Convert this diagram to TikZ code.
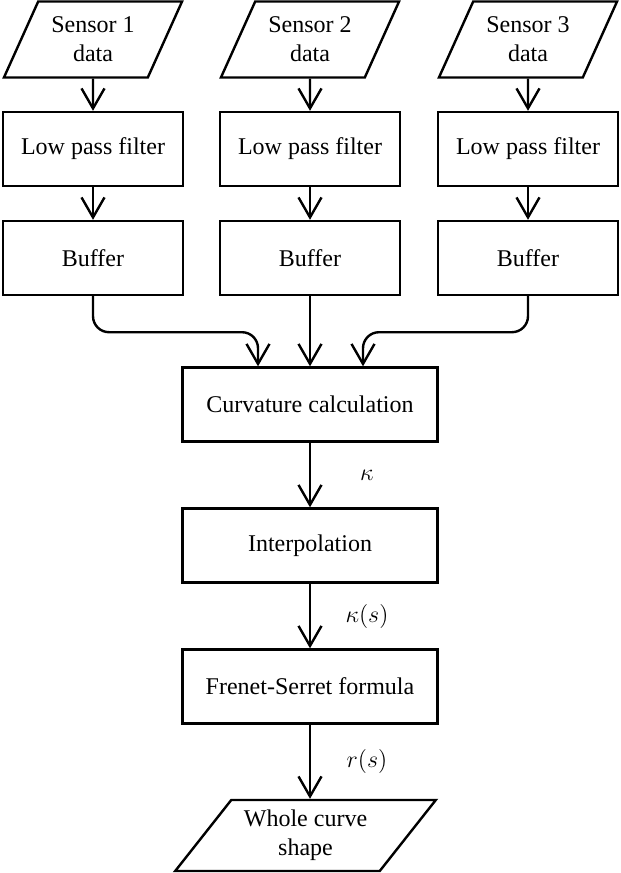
\documentclass[tikz,border=0pt]{standalone}
\usepackage{fontspec}
\setmainfont{Liberation Serif}
\usetikzlibrary{arrows.meta,shapes.geometric}

\tikzset{
	txt/.style={font=\fontsize{12}{14.5}\selectfont, align=center},
	box/.style={txt, draw, line width=1.2pt, minimum width=90pt, minimum height=37pt, inner sep=0pt},
	iobox/.style={txt, draw, line width=1.2pt, trapezium, trapezium left angle=60, trapezium right angle=120,
		trapezium stretches=true, minimum width=89.5pt, minimum height=38pt, inner sep=0pt},
	flow/.style={line width=1.2pt, -{Straight Barb[length=10pt,width=11.5pt]}},
	lbl/.style={font=\fontsize{13}{15}\selectfont, midway, xshift=28.5pt}
}

\begin{document}
\begin{tikzpicture}[x=0.5pt,y=-0.5pt]
	\useasboundingbox (0,0) rectangle (621,873);

	\node[iobox] (sen1) at (93,39.5) {Sensor 1\\data};%Sensor links
	\node[iobox] (sen2) at (310,39.5) {Sensor 2\\data};
	\node[iobox] (sen3) at (528,39.5) {Sensor 3\\data};%Sensor rechts

	\node[box] (lpf1) at (93,149) {Low pass filter};
	\node[box] (lpf2) at (310,149) {Low pass filter};
	\node[box] (lpf3) at (528,149) {Low pass filter};

	\node[box] (buf1) at (93,258) {Buffer};
	\node[box] (buf2) at (310,258) {Buffer};
	\node[box] (buf3) at (528,258) {Buffer};

	\node[box, minimum width=127.5pt] (curv) at (310,404.5) {Curvature calculation};
	\node[box, minimum width=127.5pt] (interp) at (310,545.5) {Interpolation};
	\node[box, minimum width=127.5pt] (frenet) at (310,686.5) {Frenet-Serret formula};
	\node[iobox, trapezium left angle=47.5, trapezium right angle=132.5,
		minimum width=130.5pt, minimum height=35.5pt] (shape) at (305.5,835.5) {Whole curve\\shape};

	\draw[flow] (sen1) -- (lpf1);
	\draw[flow] (sen2) -- (lpf2);
	\draw[flow] (sen3) -- (lpf3);
	\draw[flow] (lpf1) -- (buf1);
	\draw[flow] (lpf2) -- (buf2);
	\draw[flow] (lpf3) -- (buf3);

	\draw[flow, rounded corners=8pt] (buf1.south) -- ++(0,36) -| ([xshift=-26pt]curv.north);%linker Bogen
	\draw[flow] (buf2.south) -- (curv.north);
	\draw[flow, rounded corners=8pt] (buf3.south) -- ++(0,36) -| ([xshift=26.5pt]curv.north);%rechter Bogen

	\draw[flow] (curv) -- node[lbl] (k) {$\kappa$} (interp);
	\draw[flow] (interp) -- node[lbl] (ks) {$\kappa(s)$} (frenet);
	\draw[flow] (frenet.south) -- node[lbl] (rs) {$r(s)$} (frenet.south |- shape.north);
\end{tikzpicture}
\end{document}
